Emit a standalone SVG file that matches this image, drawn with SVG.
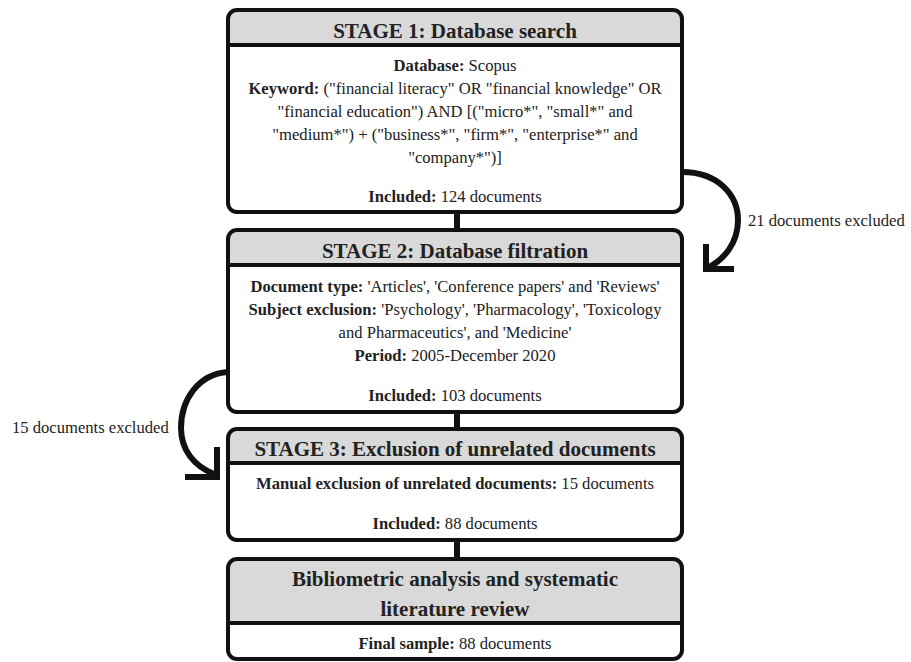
<svg xmlns="http://www.w3.org/2000/svg" width="911" height="662" viewBox="0 0 911 662">
<style>
text{font-family:"Liberation Serif","Times New Roman",serif;fill:#222;text-anchor:middle}
.h{font-size:21px;font-weight:bold}
.b{font-size:16.6px}
.k{font-weight:bold}
.hdr{fill:#d9d9d9}
.box{fill:none;stroke:#111;stroke-width:4}
.div{stroke:#111;stroke-width:4}
.lbl{font-size:16.6px;text-anchor:start}
.con{fill:none;stroke:#111;stroke-width:6}
</style>
<rect width="911" height="662" fill="#fff"/>
<g id="connectors">
<path class="con" d="M457 212V230M457 412V429M457 540V559"/>
<path class="con" d="M682 172C718 172 738 195 738 220C738 243 724 260 707 268"/>
<path class="con" d="M706 244V269H734"/>
<path class="con" d="M228 372C198 374 181 400 181 428C181 450 194 466 214 474"/>
<path class="con" d="M217 447V477H185"/>
</g>
<g id="stage1">
<path class="hdr" d="M228 45V19a9 9 0 0 1 9-9H673a9 9 0 0 1 9 9V45Z"/>
<rect class="box" x="228" y="10" width="454" height="202" rx="9"/>
<line class="div" x1="228" y1="45" x2="682" y2="45"/>
<text class="h" x="455" y="38">STAGE 1: Database search</text>
<text class="b" x="455" y="71"><tspan class="k">Database:</tspan> Scopus</text>
<text class="b" x="455" y="94"><tspan class="k">Keyword:</tspan> ("financial literacy" OR "financial knowledge" OR</text>
<text class="b" x="455" y="117">"financial education") AND [("micro*", "small*" and</text>
<text class="b" x="455" y="140">"medium*") + ("business*", "firm*", "enterprise*" and</text>
<text class="b" x="455" y="163">"company*")]</text>
<text class="b" x="455" y="202"><tspan class="k">Included:</tspan> 124 documents</text>
</g>
<g id="stage2">
<path class="hdr" d="M228 265V239a9 9 0 0 1 9-9H673a9 9 0 0 1 9 9V265Z"/>
<rect class="box" x="228" y="230" width="454" height="182" rx="9"/>
<line class="div" x1="228" y1="265" x2="682" y2="265"/>
<text class="h" x="455" y="258">STAGE 2: Database filtration</text>
<text class="b" x="455" y="292"><tspan class="k">Document type:</tspan> 'Articles', 'Conference papers' and 'Reviews'</text>
<text class="b" x="455" y="315"><tspan class="k">Subject exclusion:</tspan> 'Psychology', 'Pharmacology', 'Toxicology</text>
<text class="b" x="455" y="338">and Pharmaceutics', and 'Medicine'</text>
<text class="b" x="455" y="361"><tspan class="k">Period:</tspan> 2005-December 2020</text>
<text class="b" x="455" y="401"><tspan class="k">Included:</tspan> 103 documents</text>
</g>
<g id="stage3">
<path class="hdr" d="M228 463V438a9 9 0 0 1 9-9H673a9 9 0 0 1 9 9V463Z"/>
<rect class="box" x="228" y="429" width="454" height="111" rx="9"/>
<line class="div" x1="228" y1="463" x2="682" y2="463"/>
<text class="h" x="455" y="456">STAGE 3: Exclusion of unrelated documents</text>
<text class="b" x="455" y="489"><tspan class="k">Manual exclusion of unrelated documents:</tspan> 15 documents</text>
<text class="b" x="455" y="529"><tspan class="k">Included:</tspan> 88 documents</text>
</g>
<g id="final">
<path class="hdr" d="M228 623V568a9 9 0 0 1 9-9H673a9 9 0 0 1 9 9V623Z"/>
<rect class="box" x="228" y="559" width="454" height="100" rx="9"/>
<line class="div" x1="228" y1="623" x2="682" y2="623"/>
<text class="h" x="455" y="586">Bibliometric analysis and systematic</text>
<text class="h" x="455" y="616">literature review</text>
<text class="b" x="455" y="649"><tspan class="k">Final sample:</tspan> 88 documents</text>
</g>
<g id="labels">
<text class="lbl" x="748" y="226">21 documents excluded</text>
<text class="lbl" x="12" y="433">15 documents excluded</text>
</g>
</svg>
